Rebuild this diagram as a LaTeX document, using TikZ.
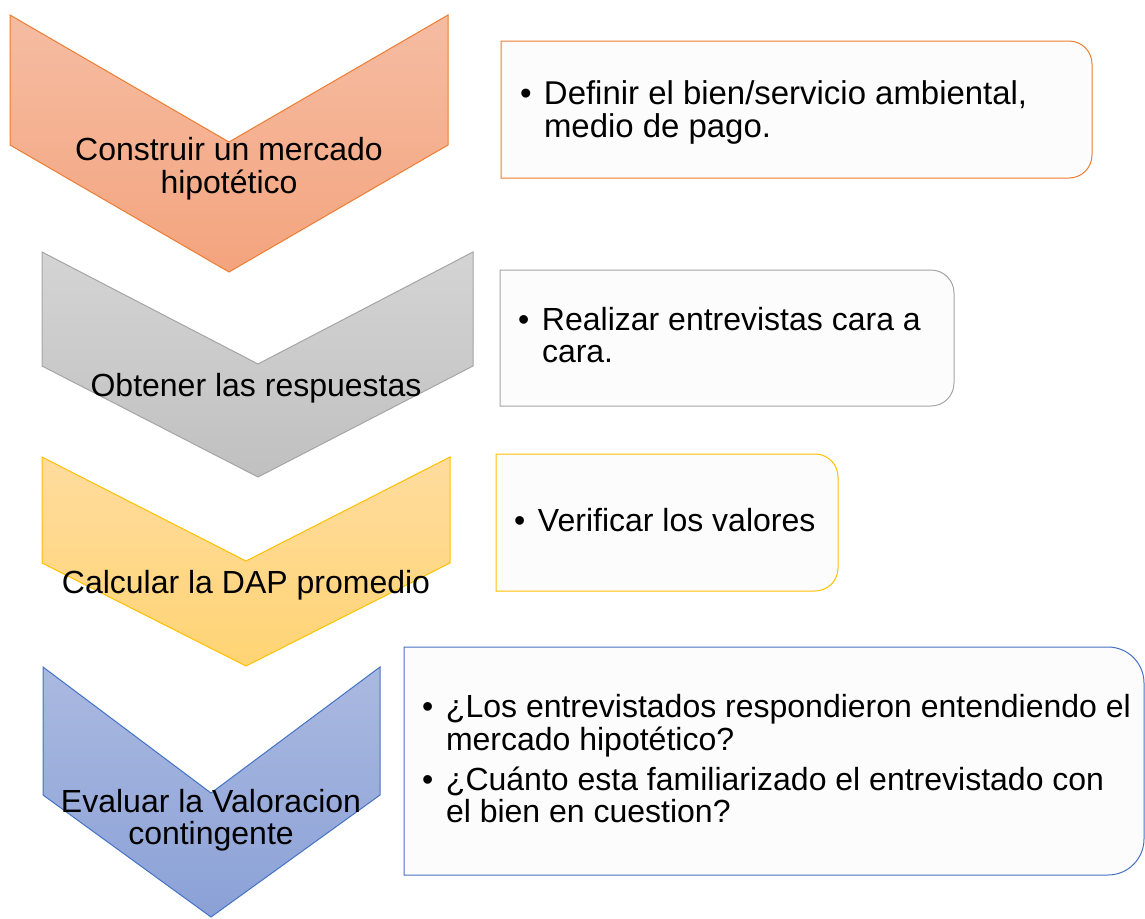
\documentclass[tikz,border=0pt]{standalone}
\usepackage{fontspec}
\setmainfont{Liberation Sans}
\definecolor{orline}{HTML}{ED7D31}
\definecolor{ortop}{HTML}{F5BCA2}
\definecolor{orbot}{HTML}{F4A47E}
\definecolor{grline}{HTML}{A5A5A5}
\definecolor{grtop}{HTML}{D4D4D4}
\definecolor{grbot}{HTML}{C0C0C0}
\definecolor{yeline}{HTML}{FFC000}
\definecolor{yetop}{HTML}{FFDC9E}
\definecolor{yebot}{HTML}{FFD474}
\definecolor{blline}{HTML}{4472C4}
\definecolor{bltop}{HTML}{AAB9E0}
\definecolor{blbot}{HTML}{8BA1D7}
\definecolor{boxfill}{HTML}{FCFCFC}
\tikzset{
  chev/.style={line width=0.75pt},
  sidebox/.style={line width=0.75pt, fill=boxfill},
  lbl/.style={inner sep=0pt, outer sep=0pt, font=\fontsize{24pt}{24pt}\selectfont, text=black},
}
\newcommand{\ctext}[1]{\begin{tabular}[t]{@{}c@{}}#1\end{tabular}}
\newcommand{\ltext}[1]{\begin{tabular}[t]{@{}l@{}}#1\end{tabular}}
\newcommand{\bul}{\makebox[18pt][l]{•}}
\begin{document}
\begin{tikzpicture}[x=0.75pt,y=-0.75pt]
\useasboundingbox (0,0) rectangle (1145,918);
% chevrons
\path[chev, draw=orline, top color=ortop, bottom color=orbot]
  (10,15) -- (229,142) -- (448,15) -- (448,145) -- (229,272) -- (10,145) -- cycle;
\path[chev, draw=grline, top color=grtop, bottom color=grbot]
  (42,252) -- (258,364) -- (473,252) -- (473,366) -- (258,477) -- (42,366) -- cycle;
\path[chev, draw=yeline, top color=yetop, bottom color=yebot]
  (42,457) -- (246,561) -- (450,457) -- (450,563) -- (246,666) -- (42,563) -- cycle;
\path[chev, draw=blline, top color=bltop, bottom color=blbot]
  (43,667) -- (211,793) -- (380,667) -- (380,795) -- (211,917) -- (43,795) -- cycle;
% chevron labels
\node[lbl, anchor=base] (t1) at (229,160) {\ctext{Construir un mercado\\hipotético}};
\node[lbl, anchor=base] (t2) at (256,396) {\ctext{Obtener las respuestas}};
\node[lbl, anchor=base] (t3) at (246,593) {\ctext{Calcular la DAP promedio}};
\node[lbl, anchor=base] (t4) at (211,812) {\ctext{Evaluar la Valoracion\\contingente}};
% side boxes
\draw[sidebox, draw=orline] (501,178) -- (501,41) -- (1069,41)
  arc[start angle=-90, end angle=0, radius=23] -- (1092,155)
  arc[start angle=0, end angle=90, radius=23] -- cycle;
\draw[sidebox, draw=grline] (500,406) -- (500,270) -- (931,270)
  arc[start angle=-90, end angle=0, radius=23] -- (954,383)
  arc[start angle=0, end angle=90, radius=23] -- cycle;
\draw[sidebox, draw=yeline] (496,591) -- (496,454) -- (815,454)
  arc[start angle=-90, end angle=0, radius=23] -- (838,568)
  arc[start angle=0, end angle=90, radius=23] -- cycle;
\draw[sidebox, draw=blline] (404,875) -- (404,647) -- (1108,647)
  arc[start angle=-90, end angle=0, radius=36] -- (1144,839)
  arc[start angle=0, end angle=90, radius=36] -- cycle;
% box texts
\node[lbl, anchor=base west, font=\fontsize{24.7pt}{24pt}\selectfont] (b1) at (520,104) {\bul\ltext{Definir el bien/servicio ambiental,\\medio de pago.}};
\node[lbl, anchor=base west] (b2) at (518,330) {\bul\ltext{Realizar entrevistas cara a\\cara.}};
\node[lbl, anchor=base west] (b3) at (514,531) {\bul\ltext{Verificar los valores}};
\node[lbl, anchor=base west] (b4a) at (422,717) {\bul\ltext{¿Los entrevistados respondieron entendiendo el\\mercado hipotético?}};
\node[lbl, anchor=base west] (b4b) at (422,790) {\bul\ltext{¿Cuánto esta familiarizado el entrevistado con\\el bien en cuestion?}};
\end{tikzpicture}
\end{document}
